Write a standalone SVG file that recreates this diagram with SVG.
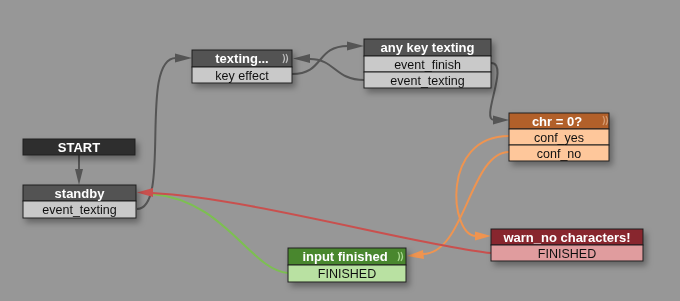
<svg xmlns="http://www.w3.org/2000/svg" width="680" height="301" viewBox="0 0 680 301">
<defs>
<filter id="sh" x="-20%" y="-30%" width="150%" height="190%">
<feDropShadow dx="3" dy="4" stdDeviation="3" flood-color="#000" flood-opacity="0.35"/>
</filter>
<style>
.hd{stroke:#1e1e1e;stroke-width:1}
.rw{stroke:#1e1e1e;stroke-width:1}
.ht{font-family:"Liberation Sans",Arial,sans-serif;font-size:13px;font-weight:bold;fill:#fff;text-anchor:middle}
.rt{font-family:"Liberation Sans",Arial,sans-serif;font-size:12.5px;fill:#111;text-anchor:middle}
.c{fill:none;stroke-width:2}
.g{stroke:#555}
.o{stroke:#ef9450}
.r{stroke:#c9504e}
.gr{stroke:#7cc050}
.ic{fill:none;stroke-width:1.2}
</style>
</defs>
<rect width="680" height="301" fill="#979797"/>
<g id="connectors">
<path class="c g" d="M79,155 L79,170"/>
<polygon fill="#555" points="79,185 75,169 83,169"/>
<path class="c g" d="M137,209 C172,209 138,58 176,58"/>
<polygon fill="#555" points="192,58 175,53.5 175,62.5"/>
<path class="c g" d="M292,74 C325,74 315,46 348,46"/>
<polygon fill="#555" points="364,46 347,41.5 347,50.5"/>
<path class="c g" d="M364,80 C335,80 335,59 310,59"/>
<polygon fill="#555" points="293,58.5 310,54 310,63"/>
<path class="c g" d="M491,63 C510,63 480,120 494,120"/>
<polygon fill="#555" points="509,120 493,115.5 493,124.5"/>
<path class="c o" d="M509,136 C440,136 450,236 476,236"/>
<polygon fill="#ef9450" points="491,236 475,231.5 475,240.5"/>
<path class="c o" d="M509,152 C470,152 465,254 423,254"/>
<polygon fill="#ef9450" points="407,256 423,250 424,259"/>
<path class="c gr" d="M288,273 C250,270 225,200 152,194"/>
<path class="c r" d="M491,253 C420,246 250,198 152,193"/>
<polygon fill="#c9504e" points="137,192.5 153,188 153,197"/>
</g>
<g id="start" filter="url(#sh)">
<rect x="23" y="139" width="112" height="16" fill="#2f2f2f" class="hd"/>
<text x="79" y="152" class="ht">START</text>
</g>
<g id="standby" filter="url(#sh)">
<rect x="23" y="185" width="113" height="16" fill="#525252" class="hd"/>
<rect x="23" y="201" width="113" height="17" fill="#c9c9c9" class="rw"/>
<text x="79.5" y="198" class="ht">standby</text>
<text x="79.5" y="214" class="rt">event_texting</text>
</g>
<g id="texting" filter="url(#sh)">
<rect x="192" y="50" width="100" height="17" fill="#525252" class="hd"/>
<rect x="192" y="67" width="100" height="16" fill="#c9c9c9" class="rw"/>
<text x="242" y="63" class="ht">texting...</text>
<text x="242" y="79.5" class="rt">key effect</text>
<path class="ic" stroke="#bdbdbd" d="M283,54 q3,4.5 0,9 M286,54 q3,4.5 0,9"/>
</g>
<g id="anykey" filter="url(#sh)">
<rect x="364" y="39" width="127" height="17" fill="#525252" class="hd"/>
<rect x="364" y="56" width="127" height="16" fill="#c9c9c9" class="rw"/>
<rect x="364" y="72" width="127" height="16" fill="#c9c9c9" class="rw"/>
<text x="427.5" y="52" class="ht">any key texting</text>
<text x="427.5" y="68.5" class="rt">event_finish</text>
<text x="427.5" y="84.5" class="rt">event_texting</text>
</g>
<g id="chr" filter="url(#sh)">
<rect x="509" y="113" width="100" height="16" fill="#b2612c" class="hd"/>
<rect x="509" y="129" width="100" height="16" fill="#fec79b" class="rw"/>
<rect x="509" y="145" width="100" height="16" fill="#fec79b" class="rw"/>
<text x="557" y="126" class="ht">chr = 0?</text>
<text x="559" y="141.5" class="rt">conf_yes</text>
<text x="559" y="157.5" class="rt">conf_no</text>
<path class="ic" stroke="#d49a70" d="M603,116 q3,4.5 0,9 M606,116 q3,4.5 0,9"/>
</g>
<g id="warn" filter="url(#sh)">
<rect x="491" y="229" width="152" height="16" fill="#88252d" class="hd"/>
<rect x="491" y="245" width="152" height="16" fill="#e09c9e" class="rw"/>
<text x="567" y="242" class="ht">warn_no characters!</text>
<text x="567" y="257.5" class="rt">FINISHED</text>
</g>
<g id="inputfinished" filter="url(#sh)">
<rect x="288" y="248" width="118" height="17" fill="#4a872f" class="hd"/>
<rect x="288" y="265" width="118" height="17" fill="#b9e1a2" class="rw"/>
<text x="345" y="261" class="ht">input finished</text>
<text x="347" y="278" class="rt">FINISHED</text>
<path class="ic" stroke="#a8d890" d="M398,252 q3,4.5 0,9 M401,252 q3,4.5 0,9"/>
</g>
</svg>
